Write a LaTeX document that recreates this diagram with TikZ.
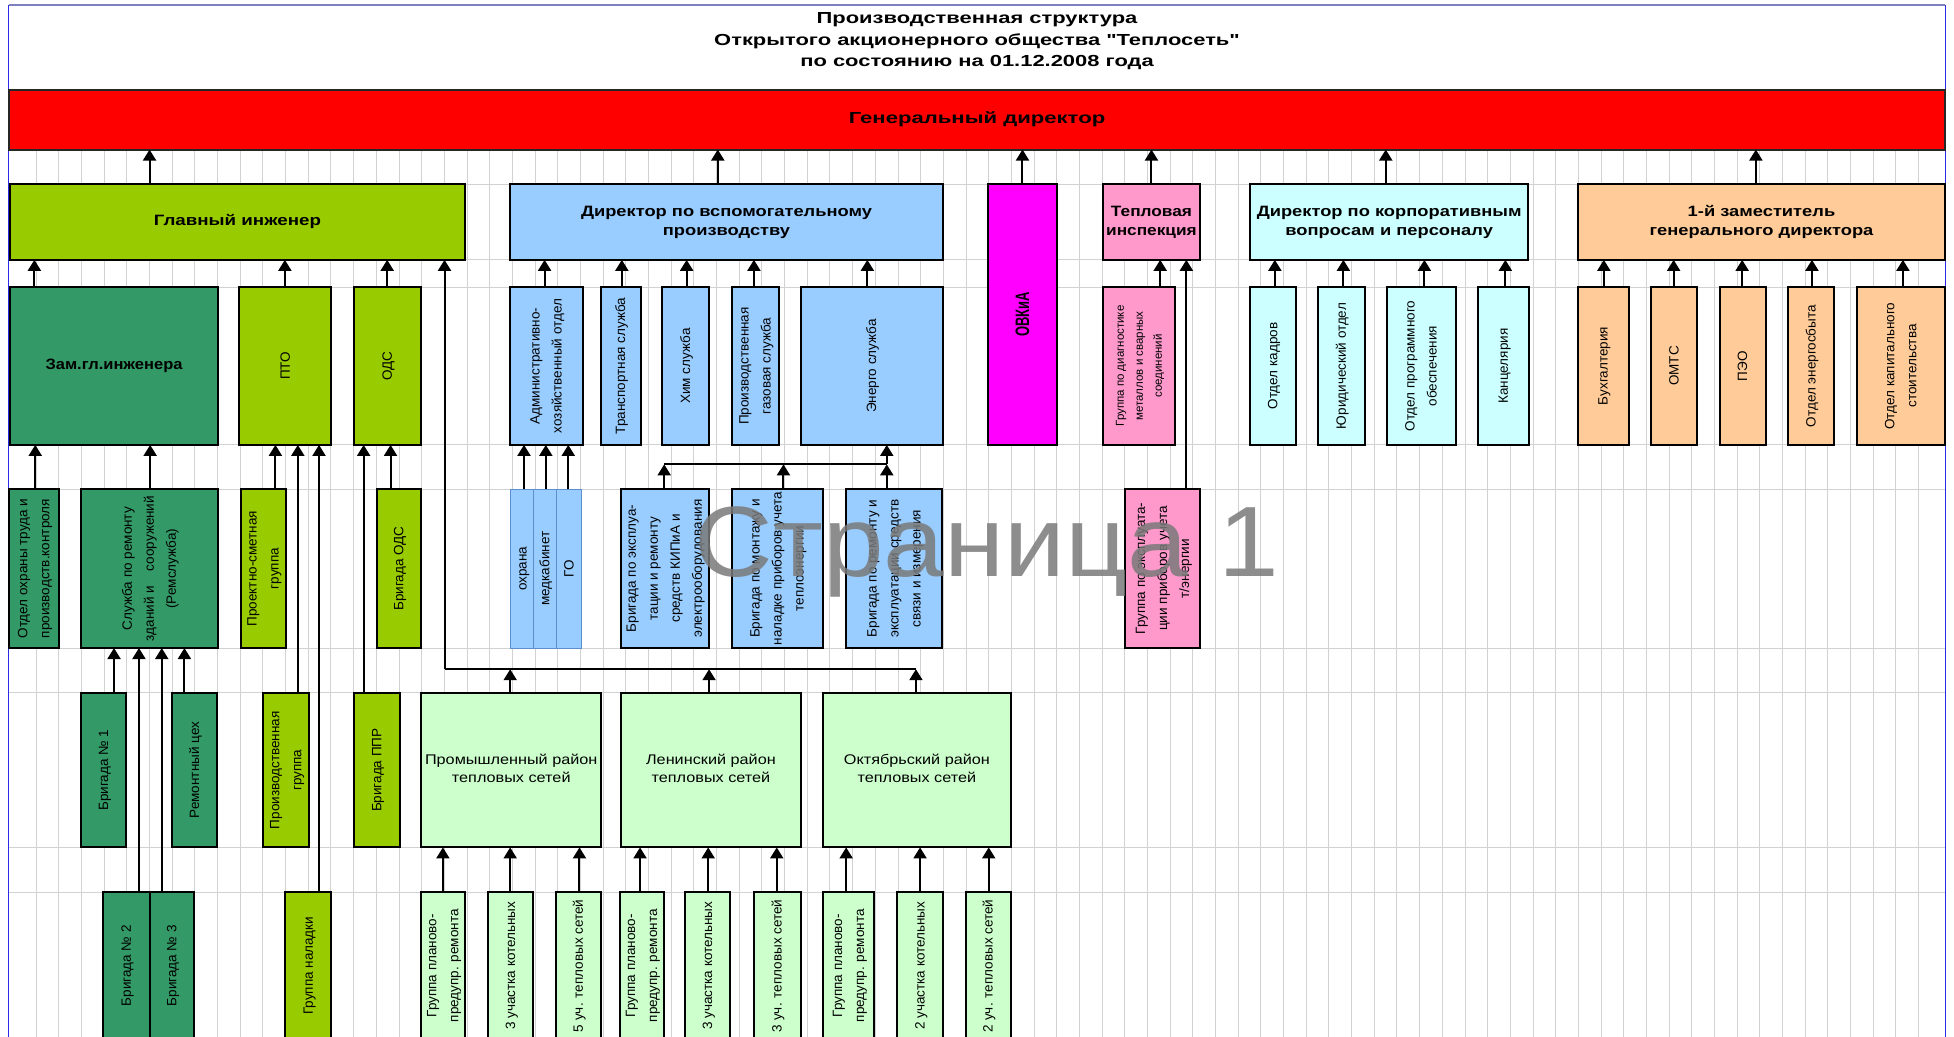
\documentclass[tikz,border=0pt]{standalone}
\usepackage{fontspec}
\setmainfont{Liberation Sans}
\usepackage{graphicx}
\usetikzlibrary{arrows.meta}
\definecolor{cgreen}{HTML}{99CC00}
\definecolor{cdark}{HTML}{339966}
\definecolor{cblue}{HTML}{99CCFF}
\definecolor{cbluel}{HTML}{5C8FCC}
\definecolor{cmag}{HTML}{FF00FF}
\definecolor{cpink}{HTML}{FF99CC}
\definecolor{ccyan}{HTML}{CCFFFF}
\definecolor{corange}{HTML}{FFCC99}
\definecolor{clight}{HTML}{CCFFCC}
\definecolor{cgrid}{HTML}{D2D2D2}
\definecolor{cframe}{HTML}{2B2BE6}
\definecolor{ctop}{HTML}{8080C0}
\definecolor{cwm}{HTML}{7A7A7A}
\font\qfont="Liberation Sans/B" at 16pt
\newcommand\rtx[1]{\rotatebox{90}{\begin{tabular}{@{}c@{}}#1\end{tabular}}}
\newcommand\hsx[2]{\scalebox{#1}[1]{\begin{tabular}{@{}c@{}}#2\end{tabular}}}
\newcommand\boxn[7]{\node[#6, minimum width={(#4-#2)*1.2462pt}, minimum height={(#5-#3)*1.2462pt}] (#1) at ({(#2+#4)/2},{(#3+#5)/2}) {#7};}
\newcommand\uparr[3]{\draw[arr] (#2 -| #1,0) -- (#3 -| #1,0);}
\newcommand\dq{{\qfont\char34}}
\tikzset{
  box/.style={draw=black, line width=2pt, inner sep=0pt, outer sep=0pt},
  g/.style={box, fill=cgreen},
  dg/.style={box, fill=cdark},
  bl/.style={box, fill=cblue},
  bt/.style={draw=cbluel, line width=1pt, fill=cblue, inner sep=0pt, outer sep=0pt},
  mg/.style={box, fill=cmag},
  pk/.style={box, fill=cpink},
  cy/.style={box, fill=ccyan},
  orng/.style={box, fill=corange},
  lg/.style={box, fill=clight},
  bfh/.style={font=\bfseries\fontsize{15}{19.3}\selectfont},
  rf/.style={font=\fontsize{13.5}{22}\selectfont},
  smf/.style={font=\fontsize{11.5}{19}\selectfont},
  df/.style={font=\fontsize{14}{17.3}\selectfont},
  arr/.style={draw=black, line width=2pt, -{Triangle[width=13pt,length=11pt]}},
  ln/.style={draw=black, line width=2pt},
  gridl/.style={draw=cgrid, line width=1pt}
}
\begin{document}
\begin{tikzpicture}[x=1.2462pt, y=-1.2462pt]
\useasboundingbox (0,0) rectangle (1568,832);
\fill[white] (0,0) rectangle (1568,832);
\begin{scope}
\clip (0,0) rectangle (1568,832);
% grid
\foreach \k in {0,...,83} {\draw[gridl] ({29+18.2*\k},120) -- ({29+18.2*\k},832);}
\foreach \yy in {147.7,208.6,230.3,357,392.5,520,556,680,716} {\draw[gridl] (7,\yy) -- (1561,\yy);}
% frame
\draw[ctop, line width=1.5pt] (7,4) -- (1561,4);
\draw[cframe, line width=1.5pt] (7,4) -- (7,832);
\draw[cframe, line width=1.5pt] (1561,4) -- (1561,832);
% title
\node[font=\bfseries\fontsize{16}{21.5}\selectfont] (title) at (784,33) {\hsx{1.37}{Производственная структура\\Открытого акционерного общества \dq Теплосеть\dq\\по состоянию на 01.12.2008 года}};
% general director
\boxn{gd}{7}{72}{1561}{120}{box, fill=red, draw=black!85, font=\bfseries\fontsize{16}{20}\selectfont}{\hsx{1.38}{Генеральный директор}}
% row 2
\boxn{gi}{8}{147.5}{373}{208.5}{g,bfh}{\hsx{1.25}{Главный инженер}}
\boxn{dvp}{409}{147.5}{757}{208.5}{bl,bfh}{\hsx{1.22}{Директор по вспомогательному\\производству}}
\boxn{ovkia}{793}{147.5}{848}{357}{mg,font=\bfseries\fontsize{13}{15}\selectfont}{\scalebox{1.5}[1]{\rotatebox{90}{ОВКиА}}}
\boxn{ti}{885}{147.5}{963}{208.5}{pk,bfh}{\hsx{1.15}{Тепловая\\инспекция}}
\boxn{dkp}{1003}{147.5}{1226.5}{208.5}{cy,bfh}{\hsx{1.22}{Директор по корпоративным\\вопросам и персоналу}}
\boxn{zam}{1266}{147.5}{1561}{208.5}{orng,bfh}{\hsx{1.22}{1-й заместитель\\генерального директора}}
% row 3
\boxn{zgi}{8}{230.5}{175}{357}{dg,bfh}{\hsx{1.1}{Зам.гл.инженера}}
\boxn{pto}{192}{230.5}{266}{357}{g,rf}{\rtx{ПТО}}
\boxn{ods}{284}{230.5}{338}{357}{g,rf}{\rtx{ОДС}}
\boxn{aho}{409}{230.5}{467.5}{357}{bl,rf}{\rtx{Административно-\\хозяйственный отдел}}
\boxn{trans}{482}{230.5}{514}{357}{bl,rf}{\rtx{Транспортная служба}}
\boxn{him}{531.5}{230.5}{569}{357}{bl,rf}{\rtx{Хим служба}}
\boxn{gaz}{587}{230.5}{625}{357}{bl,rf}{\rtx{Производственная\\газовая служба}}
\boxn{energo}{642.5}{230.5}{756.5}{357}{bl,rf}{\rtx{Энерго служба}}
\boxn{gdiag}{885}{230.5}{943}{357}{pk,smf}{\rtx{Группа по диагностике\\металлов и сварных\\соединений}}
\boxn{kadr}{1003}{230.5}{1040}{357}{cy,rf}{\rtx{Отдел кадров}}
\boxn{jur}{1058}{230.5}{1095}{357}{cy,rf}{\rtx{Юридический отдел}}
\boxn{prog}{1113}{230.5}{1168}{357}{cy,rf}{\rtx{Отдел программного\\обеспечения}}
\boxn{kanc}{1186}{230.5}{1227}{357}{cy,rf}{\rtx{Канцелярия}}
\boxn{buh}{1266}{230.5}{1307}{357}{orng,rf}{\rtx{Бухгалтерия}}
\boxn{omts}{1325}{230.5}{1362}{357}{orng,rf}{\rtx{ОМТС}}
\boxn{peo}{1380}{230.5}{1417}{357}{orng,rf}{\rtx{ПЭО}}
\boxn{esb}{1435}{230.5}{1472}{357}{orng,rf}{\rtx{Отдел энергосбыта}}
\boxn{kap}{1490}{230.5}{1561}{357}{orng,rf}{\rtx{Отдел капитального\\стоительства}}
% row 4
\boxn{oot}{7}{392.5}{47.5}{520}{dg,rf}{\rtx{Отдел охраны труда и\\производств.контроля}}
\boxn{srem}{65}{392.5}{175}{520}{dg,rf}{\rtx{Служба по ремонту\\зданий и\ \ \ \ сооружений\\(Ремслужба)}}
\boxn{psg}{193}{392.5}{229.5}{520}{g,rf}{\rtx{Проектно-сметная\\группа}}
\boxn{bods}{302.5}{392.5}{338}{520}{g,rf}{\rtx{Бригада ОДС}}
\boxn{ohr}{410}{392.5}{428}{520}{bt,rf}{\rtx{охрана}}
\boxn{med}{428}{392.5}{446.5}{520}{bt,rf}{\rtx{медкабинет}}
\boxn{go}{446.5}{392.5}{467}{520}{bt,rf}{\rtx{ГО}}
\boxn{bkip}{498}{392.5}{568.5}{520}{bl,rf}{\rtx{Бригада по эксплуа-\\тации и ремонту\\средств КИПиА и\\электрооборудования}}
\boxn{bmon}{587}{392.5}{660.5}{520}{bl,rf}{\rtx{Бригада по монтажу и\\наладке приборов учета\\теплоэнергии}}
\boxn{brem}{679}{392.5}{756}{520}{bl,rf}{\rtx{Бригада по ремонту и\\эксплуатации средств\\связи и измерения}}
\boxn{gexp}{903}{392.5}{963}{520}{pk,rf}{\rtx{Группа по эксплуата-\\ции приборов учета\\т/энергии}}
% row 5
\boxn{b1}{65}{556}{101.5}{680}{dg,rf}{\rtx{Бригада № 1}}
\boxn{rc}{138}{556}{174.5}{680}{dg,rf}{\rtx{Ремонтный цех}}
\boxn{pg}{211}{556}{248}{680}{g,rf}{\rtx{Производственная\\группа}}
\boxn{bppr}{284}{556}{321}{680}{g,rf}{\rtx{Бригада ППР}}
\boxn{prom}{338}{556}{482.5}{680}{lg,df}{\hsx{1.16}{Промышленный район\\тепловых сетей}}
\boxn{len}{498}{556}{643}{680}{lg,df}{\hsx{1.16}{Ленинский район\\тепловых сетей}}
\boxn{okt}{660.5}{556}{811}{680}{lg,df}{\hsx{1.16}{Октябрьский район\\тепловых сетей}}
% row 6
\boxn{b2}{83}{716}{120}{834}{dg,rf}{\rtx{Бригада № 2}}
\boxn{b3}{120}{716}{156}{834}{dg,rf}{\rtx{Бригада № 3}}
\boxn{gnal}{229}{716}{266}{834}{g,rf}{\rtx{Группа наладки}}
\boxn{p1}{338}{716}{373}{834}{lg,rf}{\rtx{Группа планово-\\предупр. ремонта}}
\boxn{p2}{391.5}{716}{428}{834}{lg,rf}{\rtx{3 участка котельных}}
\boxn{p3}{446}{716}{482.5}{834}{lg,rf}{\rtx{5 уч. тепловых сетей}}
\boxn{l1}{498.5}{716}{531.5}{834}{lg,rf}{\rtx{Группа планово-\\предупр. ремонта}}
\boxn{l2}{550}{716}{586}{834}{lg,rf}{\rtx{3 участка котельных}}
\boxn{l3}{605}{716}{642.5}{834}{lg,rf}{\rtx{3 уч. тепловых сетей}}
\boxn{o1}{660.5}{716}{701.5}{834}{lg,rf}{\rtx{Группа планово-\\предупр. ремонта}}
\boxn{o2}{720}{716}{757}{834}{lg,rf}{\rtx{2 участка котельных}}
\boxn{o3}{775}{716}{811}{834}{lg,rf}{\rtx{2 уч. тепловых сетей}}
% arrows row 2 -> general director
\uparr{120}{gi.north}{gd.south}
\uparr{576}{dvp.north}{gd.south}
\uparr{820.5}{ovkia.north}{gd.south}
\uparr{924}{ti.north}{gd.south}
\uparr{1112}{dkp.north}{gd.south}
\uparr{1409}{zam.north}{gd.south}
% row 3 -> row 2
\uparr{27.6}{zgi.north}{gi.south}
\uparr{228.6}{pto.north}{gi.south}
\uparr{310.7}{ods.north}{gi.south}
\uparr{437}{aho.north}{dvp.south}
\uparr{499}{trans.north}{dvp.south}
\uparr{551}{him.north}{dvp.south}
\uparr{605}{gaz.north}{dvp.south}
\uparr{696}{energo.north}{dvp.south}
\uparr{931}{gdiag.north}{ti.south}
\uparr{1023}{kadr.north}{dkp.south}
\uparr{1078}{jur.north}{dkp.south}
\uparr{1143}{prog.north}{dkp.south}
\uparr{1208}{kanc.north}{dkp.south}
\uparr{1287}{buh.north}{zam.south}
\uparr{1343}{omts.north}{zam.south}
\uparr{1398}{peo.north}{zam.south}
\uparr{1454}{esb.north}{zam.south}
\uparr{1527}{kap.north}{zam.south}
% row 4 -> row 3
\uparr{28.3}{oot.north}{zgi.south}
\uparr{120.5}{srem.north}{zgi.south}
\uparr{221}{psg.north}{pto.south}
\uparr{313.4}{bods.north}{ods.south}
\uparr{420.5}{ohr.north}{aho.south}
\uparr{438}{med.north}{aho.south}
\uparr{456}{go.north}{aho.south}
\uparr{952}{gexp.north}{ti.south}
\coordinate (eb1) at (533,372.6);
\coordinate (eb2) at (628.7,372.6);
\coordinate (eb3) at (711.6,372.6);
\draw[ln] (eb1) -- (eb3);
\draw[arr] (bkip.north -| eb1) -- (eb1);
\draw[arr] (bmon.north -| eb2) -- (eb2);
\draw[arr] (brem.north -| eb3) -- (eb3);
\draw[arr] (eb3) -- (energo.south -| eb3);
% row 5
\uparr{91.5}{b1.north}{srem.south}
\uparr{148}{rc.north}{srem.south}
\uparr{239}{pg.north}{pto.south}
\uparr{291.8}{bppr.north}{ods.south}
\coordinate (db0) at (356.7,537);
\coordinate (db1) at (409.4,537);
\coordinate (db2) at (569,537);
\coordinate (db3) at (735,537);
\draw[ln] (db3) -- (db0);
\draw[arr] (db0) -- (gi.south -| db0);
\draw[arr] (prom.north -| db1) -- (db1);
\draw[arr] (len.north -| db2) -- (db2);
\draw[arr] (okt.north -| db3) -- (db3);
% row 6
\uparr{111.5}{b2.north}{srem.south}
\uparr{129.8}{b3.north}{srem.south}
\uparr{256}{gnal.north}{pto.south}
\uparr{355.4}{p1.north}{prom.south}
\uparr{409.4}{p2.north}{prom.south}
\uparr{465}{p3.north}{prom.south}
\uparr{513.6}{l1.north}{len.south}
\uparr{568.3}{l2.north}{len.south}
\uparr{623.3}{l3.north}{len.south}
\uparr{679}{o1.north}{okt.south}
\uparr{738.3}{o2.north}{okt.south}
\uparr{793.4}{o3.north}{okt.south}
% watermark
\node[text=cwm, opacity=0.85, font=\fontsize{100}{100}\selectfont, anchor=base, inner sep=0pt] (wm) at (792,463) {\scalebox{1.09}[1]{Страница 1}};
\end{scope}
\end{tikzpicture}
\end{document}
